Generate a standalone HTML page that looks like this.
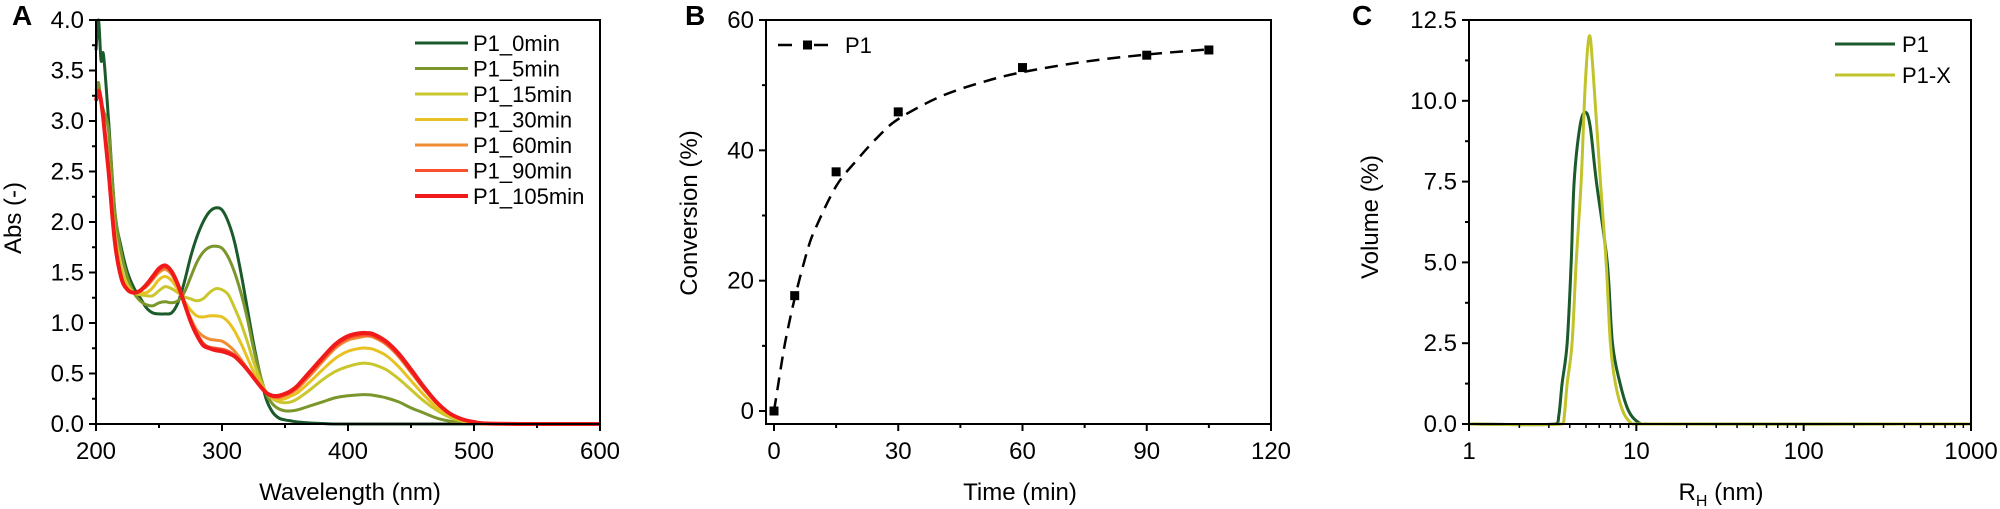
<!DOCTYPE html>
<html><head><meta charset="utf-8">
<style>
html,body{margin:0;padding:0;background:#fff;}
svg{display:block;font-family:"Liberation Sans",sans-serif;}
</style></head>
<body>
<svg id="fig" width="2000" height="509" viewBox="0 0 2000 509" xmlns="http://www.w3.org/2000/svg"></svg>
<script>
// ---------- Panel A data ----------
const wavelengths=[200,202,204,206,210,215,220,225,230,235,240,245,250,255,260,265,270,275,280,285,290,295,300,305,310,315,320,325,330,335,340,345,350,355,360,370,380,390,400,410,415,420,430,440,450,460,470,480,490,500,510,550,600];
const absNames=["P1_0min","P1_5min","P1_15min","P1_30min","P1_60min","P1_90min","P1_105min"];
const abs0=[3.7,4.0,3.6,3.65,3.0,2.1,1.75,1.5,1.35,1.25,1.15,1.1,1.09,1.09,1.1,1.2,1.4,1.65,1.85,2.0,2.1,2.14,2.12,2.0,1.8,1.5,1.15,0.8,0.5,0.25,0.12,0.06,0.04,0.03,0.02,0.01,0.005,0,0,0,0,0,0,0,0,0,0,0,0,0,0,0,0];
const abs5=[3.3,3.38,3.2,3.1,2.9,2.1,1.7,1.45,1.3,1.22,1.18,1.17,1.2,1.21,1.2,1.22,1.3,1.45,1.6,1.7,1.75,1.76,1.74,1.65,1.5,1.3,1.05,0.75,0.5,0.3,0.2,0.15,0.13,0.13,0.14,0.18,0.22,0.26,0.28,0.29,0.29,0.285,0.26,0.22,0.16,0.11,0.06,0.03,0.015,0.005,0,0,0];
const abs15=[3.2,3.3,3.2,3.0,2.6,1.9,1.55,1.38,1.3,1.28,1.27,1.27,1.32,1.36,1.34,1.3,1.26,1.24,1.22,1.24,1.3,1.34,1.33,1.28,1.15,1.0,0.82,0.62,0.45,0.32,0.25,0.22,0.21,0.22,0.25,0.34,0.44,0.52,0.57,0.6,0.6,0.59,0.54,0.45,0.34,0.23,0.14,0.07,0.03,0.01,0.003,0,0];
const abs30=[3.25,3.3,3.2,3.0,2.5,1.85,1.5,1.35,1.3,1.3,1.3,1.35,1.43,1.46,1.42,1.33,1.22,1.13,1.07,1.06,1.07,1.07,1.06,1.01,0.92,0.8,0.66,0.52,0.4,0.31,0.26,0.24,0.25,0.28,0.31,0.42,0.54,0.65,0.72,0.75,0.75,0.74,0.68,0.57,0.43,0.29,0.17,0.09,0.04,0.015,0.005,0,0];
const abs60=[3.3,3.3,3.2,3.0,2.5,1.8,1.45,1.33,1.3,1.32,1.36,1.43,1.5,1.53,1.48,1.36,1.2,1.05,0.93,0.87,0.84,0.83,0.82,0.78,0.72,0.64,0.55,0.46,0.38,0.31,0.27,0.26,0.28,0.31,0.35,0.48,0.62,0.75,0.83,0.86,0.87,0.86,0.79,0.67,0.51,0.35,0.21,0.11,0.05,0.02,0.005,0,0];
const abs90=[3.3,3.3,3.2,3.0,2.5,1.8,1.45,1.33,1.3,1.32,1.37,1.44,1.52,1.55,1.5,1.37,1.2,1.03,0.9,0.8,0.76,0.75,0.74,0.72,0.68,0.62,0.54,0.46,0.38,0.31,0.27,0.27,0.29,0.32,0.37,0.5,0.64,0.77,0.85,0.88,0.88,0.87,0.8,0.68,0.52,0.36,0.22,0.11,0.05,0.02,0.005,0,0];
const abs105=[3.2,3.3,3.2,3.0,2.5,1.8,1.45,1.33,1.3,1.32,1.38,1.46,1.54,1.57,1.51,1.38,1.2,1.02,0.88,0.78,0.75,0.73,0.72,0.7,0.67,0.61,0.54,0.46,0.38,0.31,0.28,0.28,0.3,0.33,0.38,0.52,0.66,0.79,0.87,0.9,0.9,0.89,0.82,0.7,0.54,0.37,0.22,0.11,0.05,0.02,0.005,0,0];
const absColors=["#1b5a2b","#7b962b","#c9c62e","#e8c222","#f08c34","#f8502c","#f01a1a"];
const aXTicks=[200,300,400,500,600];
const aYTicks=[0,0.5,1,1.5,2,2.5,3,3.5,4];
const aYTickLabels=["0.0","0.5","1.0","1.5","2.0","2.5","3.0","3.5","4.0"];
// ---------- Panel B data ----------
const convTime=[0,5,15,30,60,90,105];
const convValue=[0,17.7,36.7,45.9,52.7,54.6,55.4];
const fitTime=[0,1,2,3,5,8,10,15,20,25,30,40,50,60,75,90,105];
const fitValue=[0,4,8,11.5,17.3,24.5,28,34.5,38.5,42,44.8,48.2,50.4,52,53.6,54.7,55.5];
const bXTicks=[0,30,60,90,120];
const bYTicks=[0,20,40,60];
// ---------- Panel C data ----------
const p1R=[1,3.3,3.45,3.6,3.86,4.08,4.25,4.6,4.95,5.3,5.77,6.7,7.2,8.0,9,10.3,12,1000];
const p1V=[0,0,0.3,1.25,2.5,5,7.5,9.2,9.65,9.2,7.5,5,2.5,1.25,0.4,0.05,0,0];
const p1xR=[1,3.6,3.72,3.86,4.13,4.37,4.68,4.95,5.23,5.5,6.1,6.6,7.0,7.5,8.3,9.2,10,1000];
const p1xV=[0,0,0.3,1.25,2.5,5,7.5,10.5,12,11,7.5,5,2.5,1.25,0.4,0.05,0,0];
const cXTicks=[1,10,100,1000];
const cYTicks=[0,2.5,5,7.5,10,12.5];
const cYTickLabels=["0.0","2.5","5.0","7.5","10.0","12.5"];

const NS="http://www.w3.org/2000/svg";
const svg=document.getElementById('fig');
function mk(tag,attrs,parent,text){const e=document.createElementNS(NS,tag);for(const k in attrs)e.setAttribute(k,attrs[k]);if(text!==undefined)e.textContent=text;(parent||svg).appendChild(e);return e;}
function smooth(pts){let d="M"+pts[0][0].toFixed(2)+","+pts[0][1].toFixed(2);for(let i=0;i<pts.length-1;i++){const p0=pts[Math.max(0,i-1)],p1=pts[i],p2=pts[i+1],p3=pts[Math.min(pts.length-1,i+2)];const c1=[p1[0]+(p2[0]-p0[0])/6,p1[1]+(p2[1]-p0[1])/6];const c2=[p2[0]-(p3[0]-p1[0])/6,p2[1]-(p3[1]-p1[1])/6];c1[0]=Math.min(Math.max(c1[0],p1[0]),p2[0]);c2[0]=Math.min(Math.max(c2[0],p1[0]),p2[0]);d+=" C"+c1[0].toFixed(2)+","+c1[1].toFixed(2)+" "+c2[0].toFixed(2)+","+c2[1].toFixed(2)+" "+p2[0].toFixed(2)+","+p2[1].toFixed(2);}return d;}
const FS=24;

// ================= Panel A =================
const A={x0:96,x1:600,y0:20,y1:424};
const ax=v=>A.x0+(v-200)/400*(A.x1-A.x0);
const ay=v=>A.y1-(v/4)*(A.y1-A.y0);
const gA=mk('g',{});


const absSeries=[abs0,abs5,abs15,abs30,abs60,abs90,abs105];
absSeries.forEach((s,i)=>{const pts=wavelengths.map((w,j)=>[ax(w),ay(s[j])]);const p=mk('path',{d:smooth(pts),fill:'none',stroke:absColors[i],'stroke-width':i==6?4:3,'stroke-linejoin':'round'},gA);

});
mk('rect',{x:A.x0,y:A.y0,width:A.x1-A.x0,height:A.y1-A.y0,fill:'none',stroke:'#000','stroke-width':2},gA);
aXTicks.forEach(v=>{mk('line',{x1:ax(v),x2:ax(v),y1:A.y1,y2:A.y1+7,stroke:'#000','stroke-width':2},gA);const t=mk('text',{x:ax(v),y:A.y1+35,'text-anchor':'middle','font-size':FS},gA,String(v));

});
for(let v=250;v<600;v+=100)mk('line',{x1:ax(v),x2:ax(v),y1:A.y1,y2:A.y1+4,stroke:'#000','stroke-width':2},gA);
aYTicks.forEach((v,i)=>{mk('line',{x1:A.x0-7,x2:A.x0,y1:ay(v),y2:ay(v),stroke:'#000','stroke-width':2},gA);const t=mk('text',{x:A.x0-12,y:ay(v)+8,'text-anchor':'end','font-size':FS},gA,aYTickLabels[i]);

});
for(let v=0.25;v<4;v+=0.5)mk('line',{x1:A.x0-4,x2:A.x0,y1:ay(v),y2:ay(v),stroke:'#000','stroke-width':2},gA);
let t=mk('text',{x:350,y:500,'text-anchor':'middle','font-size':FS},gA,'Wavelength (nm)');


t=mk('text',{x:0,y:0,'text-anchor':'middle','font-size':FS,transform:'translate(21,218) rotate(-90)'},gA,'Abs (-)');


t=mk('text',{x:12,y:25,'font-size':28,'font-weight':'bold'},gA,'A');


const lgA=mk('g',{},gA);


absNames.forEach((n,i)=>{const y=43+i*25.5;mk('line',{x1:415,x2:468,y1:y,y2:y,stroke:absColors[i],'stroke-width':i==6?4:3},lgA);const tt=mk('text',{x:473,y:y+8,'font-size':22},lgA,n);

});

// ================= Panel B =================
const B={x0:766,x1:1271,y0:20,y1:424};
const bx=v=>774+v/120*(1271-774);
const by=v=>411-v/60*(411-20);
const gB=mk('g',{});


const fitPts=fitTime.map((tt,i)=>[bx(tt),by(fitValue[i])]);
let fp=mk('path',{d:smooth(fitPts),fill:'none',stroke:'#000','stroke-width':2.5,'stroke-dasharray':'13 8'},gB);


convTime.forEach((tt,i)=>{const r=mk('rect',{x:bx(tt)-4.5,y:by(convValue[i])-4.5,width:9,height:9,fill:'#000'},gB);

});
mk('rect',{x:B.x0,y:B.y0,width:B.x1-B.x0,height:B.y1-B.y0,fill:'none',stroke:'#000','stroke-width':2},gB);
bXTicks.forEach(v=>{mk('line',{x1:bx(v),x2:bx(v),y1:B.y1,y2:B.y1+7,stroke:'#000','stroke-width':2},gB);const tt=mk('text',{x:bx(v),y:B.y1+35,'text-anchor':'middle','font-size':FS},gB,String(v));

});
for(let v=15;v<120;v+=30)mk('line',{x1:bx(v),x2:bx(v),y1:B.y1,y2:B.y1+4,stroke:'#000','stroke-width':2},gB);
bYTicks.forEach(v=>{mk('line',{x1:B.x0-7,x2:B.x0,y1:by(v),y2:by(v),stroke:'#000','stroke-width':2},gB);const tt=mk('text',{x:B.x0-12,y:by(v)+8,'text-anchor':'end','font-size':FS},gB,String(v));

});
for(let v=10;v<60;v+=20)mk('line',{x1:B.x0-4,x2:B.x0,y1:by(v),y2:by(v),stroke:'#000','stroke-width':2},gB);
t=mk('text',{x:1020,y:500,'text-anchor':'middle','font-size':FS},gB,'Time (min)');


t=mk('text',{x:0,y:0,'text-anchor':'middle','font-size':FS,transform:'translate(697,213) rotate(-90)'},gB,'Conversion (%)');


t=mk('text',{x:685,y:25,'font-size':28,'font-weight':'bold'},gB,'B');


const lgB=mk('g',{},gB);


mk('line',{x1:778,x2:792,y1:45,y2:45,stroke:'#000','stroke-width':2.5},lgB);
mk('line',{x1:814,x2:828,y1:45,y2:45,stroke:'#000','stroke-width':2.5},lgB);
mk('rect',{x:803,y:40.5,width:9,height:9,fill:'#000'},lgB);
t=mk('text',{x:845,y:53,'font-size':22},lgB,'P1');



// ================= Panel C =================
const C={x0:1469,x1:1971,y0:20,y1:424};
const cx=v=>C.x0+Math.log10(v)/3*(C.x1-C.x0);
const cy=v=>C.y1-v/12.5*(C.y1-C.y0);
const gC=mk('g',{});


[[p1R,p1V,'#1b5a2b','line-p1'],[p1xR,p1xV,'#c0c42a','line-p1-x']].forEach(s=>{const pts=s[0].map((r,i)=>[cx(r),cy(s[1][i])]);const p=mk('path',{d:smooth(pts),fill:'none',stroke:s[2],'stroke-width':3,'stroke-linejoin':'round'},gC);

});
mk('rect',{x:C.x0,y:C.y0,width:C.x1-C.x0,height:C.y1-C.y0,fill:'none',stroke:'#000','stroke-width':2},gC);
cXTicks.forEach(v=>{mk('line',{x1:cx(v),x2:cx(v),y1:C.y1,y2:C.y1+7,stroke:'#000','stroke-width':2},gC);const tt=mk('text',{x:cx(v),y:C.y1+35,'text-anchor':'middle','font-size':FS},gC,String(v));

});
[1,10,100].forEach(d=>{for(let k=2;k<10;k++)mk('line',{x1:cx(d*k),x2:cx(d*k),y1:C.y1,y2:C.y1+4,stroke:'#000','stroke-width':1.5},gC);});
cYTicks.forEach((v,i)=>{mk('line',{x1:C.x0-7,x2:C.x0,y1:cy(v),y2:cy(v),stroke:'#000','stroke-width':2},gC);const tt=mk('text',{x:C.x0-12,y:cy(v)+8,'text-anchor':'end','font-size':FS},gC,cYTickLabels[i]);

});
for(let v=1.25;v<12.5;v+=2.5)mk('line',{x1:C.x0-4,x2:C.x0,y1:cy(v),y2:cy(v),stroke:'#000','stroke-width':2},gC);
t=mk('text',{x:1721,y:500,'text-anchor':'middle','font-size':FS},gC);


mk('tspan',{},t,'R');mk('tspan',{'font-size':16,dy:6},t,'H');mk('tspan',{dy:-6},t,' (nm)');
t=mk('text',{x:0,y:0,'text-anchor':'middle','font-size':FS,transform:'translate(1378,217) rotate(-90)'},gC,'Volume (%)');


t=mk('text',{x:1352,y:25,'font-size':28,'font-weight':'bold'},gC,'C');


const lgC=mk('g',{},gC);


[['P1','#1b5a2b',44],['P1-X','#c0c42a',75]].forEach(e=>{mk('line',{x1:1835,x2:1895,y1:e[2],y2:e[2],stroke:e[1],'stroke-width':3},lgC);const tt=mk('text',{x:1902,y:e[2]+8,'font-size':22},lgC,e[0]);

});
</script>
</body></html>
